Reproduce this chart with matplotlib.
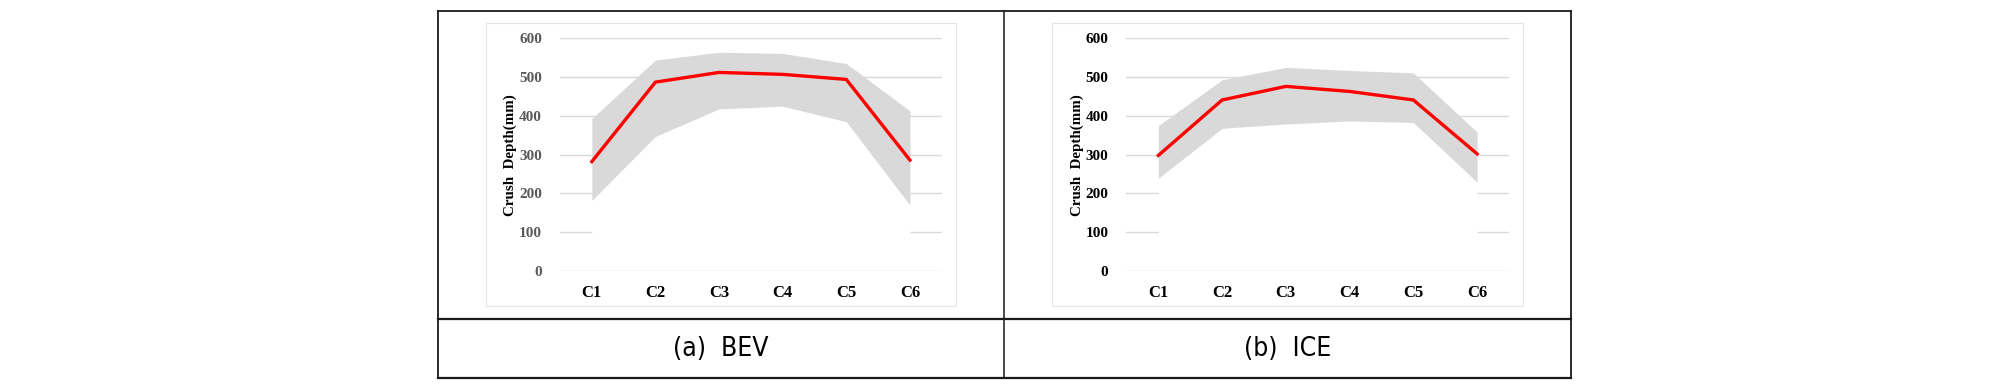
import matplotlib
matplotlib.use("Agg")
import matplotlib.pyplot as plt
from matplotlib.lines import Line2D
from matplotlib.patches import Rectangle

# ---------------- data ----------------
categories = ["C1", "C2", "C3", "C4", "C5", "C6"]
y_ticks = [0, 100, 200, 300, 400, 500, 600]

bev_mean = [282, 487, 512, 507, 494, 286]
bev_upper = [393, 544, 564, 561, 535, 413]
bev_lower = [182, 347, 418, 425, 385, 170]

ice_mean = [298, 441, 476, 463, 441, 302]
ice_upper = [375, 493, 525, 517, 511, 358]
ice_lower = [239, 368, 379, 387, 383, 229]

captions = ["(a)  BEV", "(b)  ICE"]
y_label = "Crush  Depth(mm)"

# ---------------- figure ----------------
W, H = 2008, 390
DPI = 100
fig = plt.figure(figsize=(W / DPI, H / DPI), dpi=DPI)
fig.patch.set_facecolor("white")


def fx(px):
    return px / W


def fy(py):
    return 1 - py / H


def add_axes_px(left, top, right, bottom):
    return fig.add_axes([fx(left), fy(bottom), fx(right - left), (bottom - top) / H])


GRID = "#d9d9d9"
BAND = "#d9d9d9"
RED = "#ff0000"

panels = [
    dict(mean=bev_mean, upper=bev_upper, lower=bev_lower,
         ax=(560, 38.3, 941.7, 271), frame=(485.7, 23.3, 956, 305.7),
         tickcolor="#595959", ylabel_x=510.6),
    dict(mean=ice_mean, upper=ice_upper, lower=ice_lower,
         ax=(1126.5, 38.3, 1509, 271), frame=(1051.7, 23.3, 1523.3, 305.7),
         tickcolor="#000000", ylabel_x=1077),
]

for p in panels:
    # chart-area frame
    l, t, r, b = p["frame"]
    fig.add_artist(Rectangle((fx(l), fy(b)), fx(r - l), (b - t) / H,
                             transform=fig.transFigure, facecolor="white",
                             edgecolor="#e6e6e6", lw=0.8, zorder=0))
    ax = add_axes_px(*p["ax"])
    ax.set_facecolor("none")
    x = list(range(len(categories)))
    for v in y_ticks[1:]:
        ax.axhline(v, color=GRID, lw=1.0, zorder=0)
    ax.fill_between(x, 0, p["lower"], color="white", lw=0, zorder=1)
    ax.fill_between(x, p["lower"], p["upper"], color=BAND, lw=0, zorder=2)
    ax.axhline(0, color=GRID, lw=1.0, zorder=3)
    ax.plot(x, p["mean"], color=RED, lw=2.4, zorder=4, solid_joinstyle="miter")
    ax.set_xlim(-0.5, len(categories) - 0.5)
    ax.set_ylim(0, 600)
    ax.set_xticks(x)
    ax.set_xticklabels(categories, fontfamily="Liberation Serif",
                       fontweight="bold", fontsize=12, color="black")
    ax.set_yticks(y_ticks)
    ax.set_yticklabels([str(v) for v in y_ticks], fontfamily="Liberation Serif",
                       fontweight="bold", fontsize=11, color=p["tickcolor"])
    ax.tick_params(axis="both", length=0)
    ax.tick_params(axis="y", pad=13)
    ax.tick_params(axis="x", pad=10)
    for s in ax.spines.values():
        s.set_visible(False)
    fig.text(fx(p["ylabel_x"]), fy(155), y_label, rotation=90,
             ha="center", va="center", fontfamily="Liberation Serif",
             fontweight="bold", fontsize=10.8, color="black")

# ---------------- table lines ----------------
LW = 1.3
LC = "#1a1a1a"
left, right, top, bottom = 437.7, 1571, 11.3, 377.7
mid_x, mid_y = 1004.3, 319


def hline(y, x0, x1, lw=LW):
    fig.add_artist(Line2D([fx(x0), fx(x1)], [fy(y), fy(y)], color=LC, lw=lw,
                          transform=fig.transFigure, zorder=10))


def vline(x, y0, y1, lw=LW):
    fig.add_artist(Line2D([fx(x), fx(x)], [fy(y0), fy(y1)], color=LC, lw=lw,
                          transform=fig.transFigure, zorder=10))


hline(top, left, right)
hline(bottom, left, right, lw=1.6)
hline(mid_y, left, right, lw=1.6)
vline(left, top, bottom)
vline(right, top, bottom)
vline(mid_x, top, bottom, lw=1.1)

# captions
for cx, txt in zip([(left + mid_x) / 2, (mid_x + right) / 2], captions):
    fig.text(fx(cx), fy(348.5), txt, ha="center", va="center",
             fontfamily="DejaVu Sans", fontstretch="condensed",
             fontsize=19, color="black")

fig.savefig("out.png", dpi=DPI, facecolor="white")
